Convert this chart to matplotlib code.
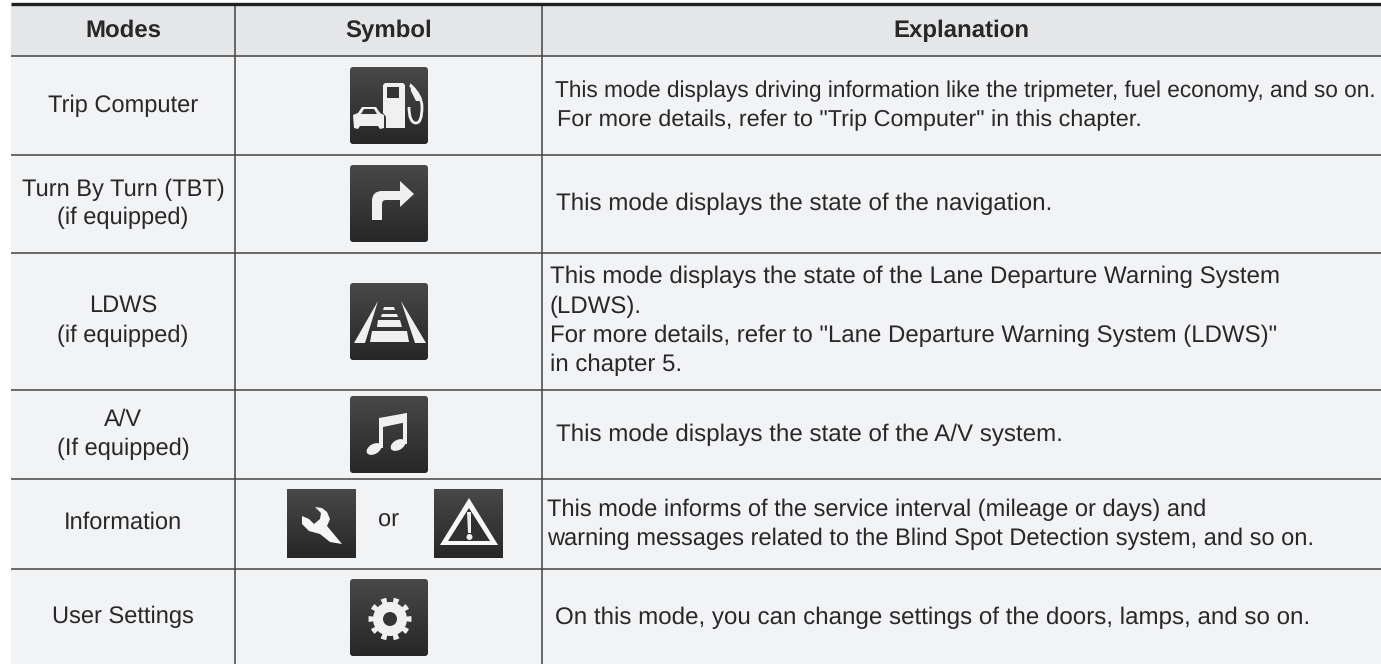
#!/usr/bin/env python3
"""Mode table with symbol icons."""

import numpy as np
import matplotlib
matplotlib.use("Agg")
import matplotlib.pyplot as plt
from matplotlib.colors import LinearSegmentedColormap
from matplotlib.patches import Circle, Ellipse, FancyBboxPatch, PathPatch, Polygon, Rectangle, Wedge
from matplotlib.path import Path

plt.rcParams["font.family"] = ["Liberation Sans", "DejaVu Sans"]
plt.rcParams["text.hinting"] = "none"

headers = ["Modes", "Symbol", "Explanation"]
mode_lines = [
    "Trip Computer",
    "Turn By Turn (TBT)", "(if equipped)",
    "LDWS", "(if equipped)",
    "A/V", "(If equipped)",
    "Information",
    "User Settings",
]
explanation_lines = [
    'This mode displays driving information like the tripmeter, fuel economy, and so on.',
    'For more details, refer to "Trip Computer" in this chapter.',
    'This mode displays the state of the navigation.',
    'This mode displays the state of the Lane Departure Warning System',
    '(LDWS).',
    'For more details, refer to "Lane Departure Warning System (LDWS)"',
    'in chapter 5.',
    'This mode displays the state of the A/V system.',
    'This mode informs of the service interval (mileage or days) and',
    'warning messages related to the Blind Spot Detection system, and so on.',
    'On this mode, you can change settings of the doors, lamps, and so on.',
]

# layout, in image pixels (y values are text baselines)
col_edges = [11, 235.5, 542, 1381]
row_edges = [3.5, 56, 154.5, 253, 390, 479, 569, 664]
mode_y = [112, 196, 224, 313, 342, 426, 455, 529, 623]
expl_x = [555, 557, 556, 550, 550, 550, 550, 556, 547, 547, 555]
expl_y = [97, 126, 210, 283, 313, 342, 371, 441, 516, 545, 624]
expl_size = [16.3, 16.85, 17.35, 17.4, 17.3, 17.3, 17.3, 17.4, 17.0, 17.0, 17.4]

INK = "#2a2728"
RULE = "#444444"
ICON_TOP = "#484848"
ICON_BOTTOM = "#272727"
GLYPH = "#f0f0f0"
HOLE = "#343434"
ICON_CMAP = LinearSegmentedColormap.from_list("icon", [ICON_TOP, ICON_BOTTOM])


def icon_bg(ax, x0, y0, x1, y1, rounded=True):
    im = ax.imshow(np.linspace(0, 1, 64).reshape(-1, 1), extent=(x0, x1, y1, y0), aspect="auto",
                   cmap=ICON_CMAP, zorder=3)
    if rounded:
        clip = FancyBboxPatch((x0 + 3, y0 + 3), x1 - x0 - 6, y1 - y0 - 6,
                              boxstyle="round,pad=3,rounding_size=3", fc="none", ec="none")
        ax.add_patch(clip)
        im.set_clip_path(clip)
    ax.set_xlim(0, 1381)
    ax.set_ylim(664, 0)


def poly(ax, pts, ox, oy, color=GLYPH, z=4):
    ax.add_patch(Polygon([(ox + a, oy + b) for a, b in pts], closed=True, fc=color, ec="none", zorder=z))


def fuel_icon(ax):
    x, y = 350, 67
    icon_bg(ax, x, y, x + 78, y + 77)
    poly(ax, [(33, 18), (35, 16), (53, 16), (55, 18), (55, 61), (33, 61)], x, y)
    poly(ax, [(37, 20), (49, 20), (49, 31), (37, 31)], x, y, HOLE, 5)
    hose = Path([(x + 60, y + 18), (x + 72, y + 28), (x + 72, y + 40), (x + 72, y + 56), (x + 66, y + 56),
                 (x + 59, y + 56), (x + 59, y + 40)],
                [Path.MOVETO, Path.CURVE3, Path.CURVE3, Path.CURVE3, Path.CURVE3, Path.CURVE3, Path.CURVE3])
    ax.add_patch(PathPatch(hose, fc="none", ec=GLYPH, lw=2.0, zorder=4))
    poly(ax, [(60, 16), (66, 22), (70, 34), (66, 34), (61, 24)], x, y)
    # car sits in front of the pump with a dark edge
    poly(ax, [(26, 40), (34, 47), (36, 50), (36, 62), (30, 62)], x, y, HOLE, 5)
    poly(ax, [(3, 48), (8, 46), (12, 40), (26, 40), (30, 46), (34, 48), (34, 61), (30, 62), (28, 59),
              (10, 59), (8, 62), (4, 61)], x, y, GLYPH, 6)
    poly(ax, [(11, 47), (14, 42), (24, 42), (27, 47)], x, y, HOLE, 7)


def arrow_icon(ax):
    x, y = 350, 165
    icon_bg(ax, x, y, x + 78, y + 77)
    shaft = Path([(x + 22, y + 55), (x + 22, y + 36), (x + 22, y + 26), (x + 32, y + 26), (x + 50, y + 26),
                  (x + 50, y + 35), (x + 36, y + 35), (x + 32, y + 35), (x + 32, y + 39), (x + 32, y + 55),
                  (x + 22, y + 55)],
                 [Path.MOVETO, Path.LINETO, Path.CURVE3, Path.CURVE3, Path.LINETO,
                  Path.LINETO, Path.LINETO, Path.CURVE3, Path.CURVE3, Path.LINETO, Path.CLOSEPOLY])
    ax.add_patch(PathPatch(shaft, fc=GLYPH, ec="none", zorder=4))
    poly(ax, [(50, 16), (64, 29), (50, 42)], x, y)


def lane_icon(ax):
    x, y = 350, 283
    icon_bg(ax, x, y, x + 78, y + 77)
    poly(ax, [(28, 18), (15, 60), (4, 60)], x, y)
    poly(ax, [(51, 18), (76, 60), (65, 60)], x, y)
    poly(ax, [(34, 24), (44, 24), (45, 27), (33, 27)], x, y)
    poly(ax, [(32, 31), (47, 31), (48, 34), (31, 34)], x, y)
    poly(ax, [(28, 37), (50, 37), (52, 44), (27, 44)], x, y)
    poly(ax, [(22, 48), (57, 48), (59, 59), (20, 59)], x, y)


def music_icon(ax):
    x, y = 350, 396
    icon_bg(ax, x, y, x + 78, y + 77)
    poly(ax, [(29, 22), (57, 17), (57, 26), (33, 31), (33, 52), (29, 52)], x, y)
    poly(ax, [(53, 18), (57, 17), (57, 48), (53, 48)], x, y)
    ax.add_patch(Ellipse((x + 24, y + 53), 16, 10, angle=-30, fc=GLYPH, ec="none", zorder=4))
    ax.add_patch(Ellipse((x + 48, y + 49), 16, 10, angle=-30, fc=GLYPH, ec="none", zorder=4))


def wrench_icon(ax):
    x, y = 287, 489
    icon_bg(ax, x, y, x + 69, y + 69, rounded=False)
    poly(ax, [(28, 18), (35, 19), (40, 23), (43, 30), (40, 37), (55, 55), (43, 53), (33, 45), (22, 42),
              (15, 35), (15, 27), (22, 30), (27, 35), (33, 30), (34, 24)], x, y, "#f6f6f6")


def warning_icon(ax):
    x, y = 434, 489
    icon_bg(ax, x, y, x + 69, y + 69, rounded=False)
    poly(ax, [(35, 9), (64, 56), (6, 56)], x, y, "#f8f8f8")
    poly(ax, [(35, 19), (56, 52), (14, 52)], x, y, "#303030", 5)
    poly(ax, [(33, 23), (37, 23), (37, 44), (34, 44)], x, y, "#eeeeee", 6)
    ax.add_patch(Circle((x + 35.5, y + 48), 3, fc="#eeeeee", ec="none", zorder=6))


def gear_icon(ax):
    x, y = 350, 579
    cx, cy = x + 40, y + 40
    icon_bg(ax, x, y, x + 78, y + 77)
    ax.add_patch(Circle((cx, cy), 17, fc=GLYPH, ec="none", zorder=4))
    for ang in np.arange(0, 360, 36):
        ax.add_patch(Wedge((cx, cy), 21.5, ang - 8, ang + 8, fc=GLYPH, ec="none", zorder=4))
    ax.add_patch(Circle((cx, cy), 7, fc=HOLE, ec="none", zorder=5))


def main():
    fig = plt.figure(figsize=(13.81, 6.64), dpi=100)
    ax = fig.add_axes([0, 0, 1, 1])
    ax.set_xlim(0, 1381)
    ax.set_ylim(664, 0)
    ax.axis("off")

    # backgrounds
    left, right = col_edges[0], col_edges[-1]
    ax.add_patch(Rectangle((left, row_edges[0]), right - left, row_edges[1] - row_edges[0],
                           fc="#e5e6e8", ec="none", zorder=1))
    ax.add_patch(Rectangle((left, row_edges[1]), right - left, row_edges[-1] - row_edges[1],
                           fc="#f2f3f5", ec="none", zorder=1))

    # rules
    for y in row_edges[1:-1]:
        ax.plot([left, right], [y, y], color=RULE, lw=1.1, zorder=2, solid_capstyle="butt")
    for x in col_edges[1:3]:
        ax.plot([x, x], [row_edges[0], row_edges[-1]], color=RULE, lw=1.1, zorder=2, solid_capstyle="butt")
    ax.plot([left, right], [row_edges[0], row_edges[0]], color="#231f20", lw=2.4, zorder=2,
            solid_capstyle="butt")

    # header
    for i, h in enumerate(headers):
        ax.text((col_edges[i] + col_edges[i + 1]) / 2, 37, h, ha="center", va="baseline",
                fontsize=17.3, fontweight="bold", color=INK, zorder=5)

    # modes column
    for s, y in zip(mode_lines, mode_y):
        ax.text(123, y, s, ha="center", va="baseline", fontsize=17.05, color=INK, zorder=5)

    # explanations
    for s, x, y, size in zip(explanation_lines, expl_x, expl_y, expl_size):
        ax.text(x, y, s, ha="left", va="baseline", fontsize=size, color=INK, zorder=5)

    ax.text(389, 527, "or", ha="center", va="baseline", fontsize=17.05, color=INK, zorder=5)

    fuel_icon(ax)
    arrow_icon(ax)
    lane_icon(ax)
    music_icon(ax)
    wrench_icon(ax)
    warning_icon(ax)
    gear_icon(ax)

    fig.savefig("out.png", dpi=100)
    plt.close(fig)


if __name__ == "__main__":
    main()
